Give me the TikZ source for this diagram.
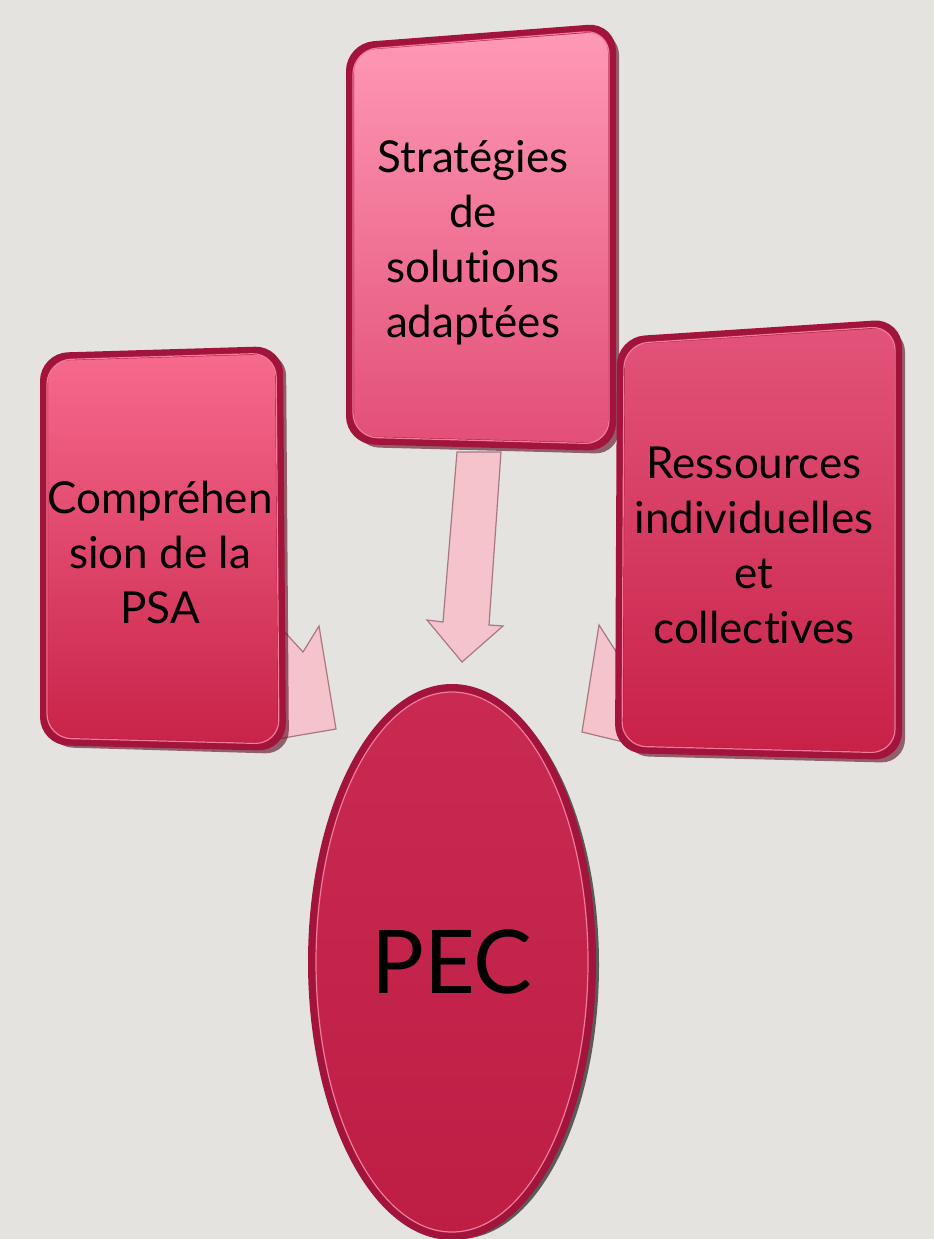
\documentclass[tikz,border=0pt]{standalone}
\usepackage{fontspec}
\setmainfont{Lato}[Ligatures={NoCommon,NoRare}]
\usetikzlibrary{shapes.geometric}
\definecolor{bg}{HTML}{E5E3DF}
\definecolor{rim}{HTML}{A3143C}
\definecolor{rimdark}{HTML}{5A0820}
\definecolor{rimlight}{HTML}{F27A9A}
\definecolor{arrowfill}{HTML}{F4C3CC}
\definecolor{arrowline}{HTML}{A87882}
\definecolor{ltop}{HTML}{F76A8E}
\definecolor{lbot}{HTML}{C82248}
\definecolor{mtop}{HTML}{FF9AB6}
\definecolor{mbot}{HTML}{E24E76}
\definecolor{rtop}{HTML}{E3547A}
\definecolor{rbot}{HTML}{C82148}
\definecolor{etop}{HTML}{C92A52}
\definecolor{ebot}{HTML}{BE1E44}
\tikzset{
  boxrim/.style={draw=rim, line width=8pt, rounded corners=24pt},
  boxshadow/.style={fill=rimdark, opacity=0.6, rounded corners=24pt},
  boxhl/.style={draw=rimlight, line width=1.2pt, rounded corners=24pt},
  blockarrow/.style={fill=arrowfill, draw=arrowline, line width=1.2pt, line join=miter},
  lbl/.style={align=center, font=\fontsize{44}{55}\selectfont, text=black},
}
\begin{document}
\begin{tikzpicture}[x=1pt,y=-1pt]
\fill[bg] (0,0) rectangle (934,1239);
\useasboundingbox (0,0) rectangle (934,1239);

% arrows (drawn beneath boxes)
\coordinate (a1) at (260,605);
\draw[blockarrow] (a1) -- (303,652) -- (319,626) -- (336,729) -- (260,742) -- cycle;
\draw[blockarrow] (457,452) -- (501,452) -- (489,625) -- (503,626) -- (462,662) -- (427,620) -- (443,622) -- cycle;
\draw[blockarrow] (599,625) -- (640,689) -- (640,746) -- (582,732) -- cycle;

% left box
\fill[boxshadow] (49,361) -- (286,352) -- (289,754) -- (49,747) -- cycle;
\shade[top color=ltop, bottom color=lbot, rounded corners=24pt]
  (44,357) -- (279,350) -- (282,747) -- (44,741) -- cycle;
\draw[boxrim] (44,357) -- (279,350) -- (282,747) -- (44,741) -- cycle;
\draw[boxhl] (47,360) -- (276,353) -- (279,744) -- (47,738) -- cycle;

% middle box
\fill[boxshadow] (355,51) -- (619,31) -- (619,454) -- (355,447) -- cycle;
\shade[top color=mtop, bottom color=mbot, rounded corners=24pt]
  (350,47) -- (612,27) -- (612,447) -- (350,440) -- cycle;
\draw[boxrim] (350,47) -- (612,27) -- (612,447) -- (350,440) -- cycle;
\draw[boxhl] (353,50) -- (609,30) -- (609,444) -- (353,437) -- cycle;

% right box
\fill[boxshadow] (627,346) -- (905,328) -- (905,763) -- (625,756) -- cycle;
\shade[top color=rtop, bottom color=rbot, rounded corners=24pt]
  (621,341) -- (898,323) -- (898,756) -- (619,749) -- cycle;
\draw[boxrim] (621,341) -- (898,323) -- (898,756) -- (619,749) -- cycle;
\draw[boxhl] (624,344) -- (895,326) -- (895,753) -- (622,746) -- cycle;

% labels
\node[lbl] (comp) at (160,552) {Compréhen\\sion de la\\PSA};
\node[lbl] (strat) at (473,243) {Stratégies\\de\\solutions\\adaptées};
\node[lbl] (ress) at (754,545) {Ressources\\individuelles\\et\\collectives};

% PEC ellipse
\fill[black, opacity=0.6] (459,965) ellipse [x radius=140, y radius=274];
\node[ellipse, minimum width=280pt, minimum height=548pt, inner sep=0pt,
  top color=etop, bottom color=ebot, draw=rim, line width=8pt,
  font=\fontsize{88}{100}\selectfont, text=black] (pec) at (452,962) {PEC};
\draw[rimlight, line width=1.2pt] (452,962) ellipse [x radius=136, y radius=270];
\end{tikzpicture}
\end{document}
